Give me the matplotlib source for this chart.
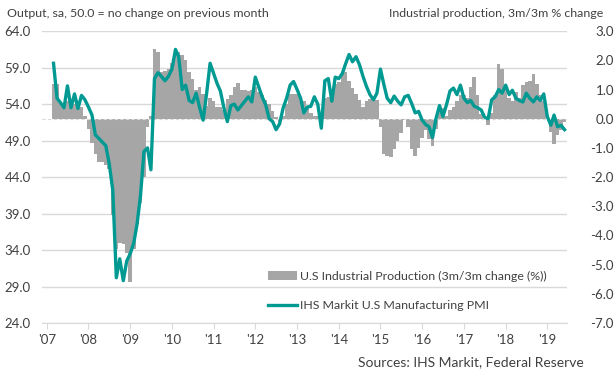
import numpy as np
import pandas as pd
import matplotlib
matplotlib.use("Agg")
import matplotlib.pyplot as plt
import matplotlib.dates as mdates
from matplotlib.patches import Patch
from matplotlib.lines import Line2D

plt.rcParams['font.family'] = ['Lato', 'DejaVu Sans']

# monthly, Mar 2007 - Jun 2019
months = pd.date_range('2007-03-01', periods=148, freq='MS')

pmi = [59.6, 54.8, 54.2, 53.5, 56.5, 53.5, 55.4, 53.4, 55.2, 54.6,
       53.6, 52.5, 49.8, 49.3, 48.8, 48.3, 45.8, 42.2, 30.2, 32.8,
       29.8, 32.5, 33.5, 35.0, 37.5, 41.5, 47.5, 48.0, 45.0, 57.5,
       58.3, 57.8, 57.2, 57.8, 58.8, 61.5, 60.5, 56.0, 56.6, 54.5,
       54.2, 55.5, 53.5, 51.8, 55.5, 59.6, 58.2, 56.8, 55.8, 53.5,
       51.6, 53.8, 54.0, 53.2, 53.8, 54.4, 55.0, 54.3, 57.7, 56.3,
       55.0, 53.9, 52.0, 51.6, 50.5, 51.3, 53.5, 54.8, 56.6, 57.1,
       56.0, 54.8, 52.8, 53.6, 53.7, 55.0, 54.0, 50.7, 57.2, 57.5,
       54.4, 57.7, 57.5, 58.2, 59.5, 60.8, 59.8, 60.5, 59.4, 57.8,
       56.4, 55.3, 54.6, 55.5, 58.8, 56.6, 54.8, 54.2, 55.1, 54.4,
       53.9, 55.0, 55.2, 54.1, 52.8, 53.0, 51.8, 51.2, 50.9, 49.4,
       52.0, 53.8, 52.3, 53.9, 55.8, 56.2, 55.3, 56.6, 54.8, 54.2,
       54.5, 53.7, 53.5, 53.2, 52.2, 52.0, 54.6, 55.0, 56.0, 55.5,
       56.6, 55.3, 55.9, 54.8, 54.5, 54.3, 55.5, 54.8, 54.3, 55.0,
       54.5, 55.4, 52.3, 51.1, 52.5, 50.9, 51.1, 50.5]

ip = [1.2, 1.2, 0.5, 0.4, 0.6, 0.4, 0.5, 0.35, 0.4, 0.1,
      -0.35, -0.82, -1.22, -1.5, -1.5, -1.6, -1.73, -3.3, -4.47, -4.25,
      -4.3, -4.6, -5.6, -4.47, -3.6, -2.9, -2.0, -0.3, 0.1, 2.4,
      2.3, 1.6, 1.65, 1.7, 1.9, 2.3, 2.3, 2.2, 2.0, 1.6,
      1.35, 1.0, 1.1, 0.85, 0.45, 0.7, 0.6, 0.4, 0.4, 0.3,
      0.67, 0.8, 1.1, 1.24, 1.0, 1.0, 0.95, 1.0, 1.1, 0.9,
      0.8, 0.65, 0.5, 0.25, 0.05, -0.1, 0.1, 0.5, 0.85, 0.85,
      0.85, 0.7, 0.6, 0.35, 0.2, 0.1, 0.1, 0.2, 0.7, 0.73,
      0.75, 1.2, 1.25, 1.55, 1.6, 1.3, 1.05, 0.84, 0.65, 0.4,
      0.6, 0.67, 0.67, 0.65, -0.3, -1.22, -1.27, -1.3, -1.05, -0.75,
      -0.5, -0.05, -0.3, -1.04, -1.27, -1.0, -0.65, -0.4, -0.7, -0.93,
      -0.35, 0.3, 0.35, 0.1, 0.3, 0.4, 0.6, 0.8, 0.8, 0.7,
      1.1, 1.42, 0.8, 0.15, 0.0, -0.2, 0.2, 0.8, 1.87, 1.7,
      1.15, 0.7, 0.6, 0.9, 0.7, 1.15, 1.25, 1.3, 1.52, 1.18,
      0.8, 0.6, 0.0, -0.46, -0.87, -0.55, -0.4, -0.1]

left_ticks = np.arange(24, 65, 5)
right_ticks = np.arange(-7, 4, 1)

teal = '#009A93'
grey_bar = '#A6A6A6'
grid_c = '#D9D9D9'
txt_c = '#404040'

fig = plt.figure(figsize=(6.14, 3.8), dpi=100)
ax = fig.add_axes([0.068, 0.15, 0.855, 0.768])
axb = ax.twinx()
axl = ax.twinx()

# left scale: grid and labels
ax.set_ylim(24, 64)
ax.set_yticks(left_ticks)
ax.set_yticklabels(['%.1f' % v for v in left_ticks])
ax.grid(axis='y', color=grid_c, lw=1)
ax.set_axisbelow(True)

# bars on right scale
axb.bar(months, ip, width=31, color=grey_bar, linewidth=0, align='center')
axb.axhline(0, color=grid_c, lw=0.8, ls=(0, (3, 2)))
axb.set_ylim(-7, 3)
axb.set_yticks(right_ticks)
axb.set_yticklabels(['%.1f' % v for v in right_ticks])
axb.patch.set_visible(False)

# PMI line on top
axl.plot(months, pmi, color=teal, lw=2.4, solid_joinstyle='round')
axl.set_ylim(24, 64)
axl.axis('off')

xmin = mdates.date2num(pd.Timestamp('2006-11-18'))
xmax = mdates.date2num(pd.Timestamp('2019-06-20'))
for a in (ax, axb, axl):
    a.set_xlim(xmin, xmax)
    for s in ['top', 'left', 'right', 'bottom']:
        a.spines[s].set_visible(False)

ax.spines['bottom'].set_visible(True)
ax.spines['bottom'].set_color(grid_c)
ax.xaxis.set_major_locator(mdates.YearLocator())
ax.xaxis.set_major_formatter(mdates.DateFormatter("'%y"))
ax.tick_params(axis='x', colors=grid_c, length=4, labelcolor=txt_c, labelsize=9.5, pad=4)
ax.tick_params(axis='y', length=0, labelcolor=txt_c, labelsize=9.5, pad=8)
axb.tick_params(axis='x', length=0, labelbottom=False)
axb.tick_params(axis='y', length=0, labelcolor=txt_c, labelsize=9.5, pad=34)
for lab in axb.get_yticklabels():
    lab.set_horizontalalignment('right')

fig.text(0.012, 0.965, 'Output, sa, 50.0 = no change on previous month',
         fontsize=8.9, color=txt_c, va='center', ha='left')
fig.text(0.982, 0.965, 'Industrial production, 3m/3m % change',
         fontsize=8.9, color=txt_c, va='center', ha='right')
fig.text(0.951, 0.047, 'Sources: IHS Markit, Federal Reserve',
         fontsize=10, color=txt_c, va='center', ha='right')

handles = [Patch(facecolor=grey_bar, edgecolor='none'),
           Line2D([0], [0], color=teal, lw=2.4)]
labels = ['U.S Industrial Production (3m/3m change (%))',
          'IHS Markit U.S Manufacturing PMI']
fig.legend(handles, labels, loc='upper left', bbox_to_anchor=(0.428, 0.3),
           frameon=False, fontsize=8.9, labelcolor=txt_c, handlelength=2.4,
           handleheight=0.7, handletextpad=0.25, labelspacing=1.45,
           borderaxespad=0)

fig.savefig('out.png', dpi=100)
